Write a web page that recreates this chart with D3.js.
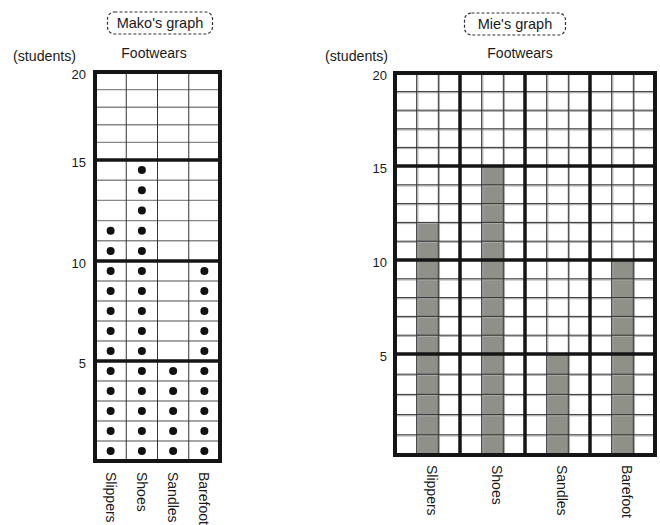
<!DOCTYPE html>
<html>
<head>
<meta charset="utf-8">
<script src="https://cdn.jsdelivr.net/npm/d3@7"></script>
<style>
  body { margin: 0; background: #fff; }
  text { font-family: "Liberation Sans", Arial, sans-serif; fill: #1a1a1a; }
</style>
</head>
<body>
<script>
var width = 660,
    height = 525;

// data
var categories = ["Slippers", "Shoes", "Sandles", "Barefoot"];
var makoCounts = [12, 15, 5, 10];
var mieCounts = [12, 15, 5, 10];
var yTicks = [5, 10, 15, 20];
var yMax = 20;

var svg = d3.select("body").append("svg")
    .attr("width", width)
    .attr("height", height);

// the printed grids are not perfectly even, so piecewise scales
var xMako = d3.scaleBand().domain(categories).range([95, 220]);
var yMako = d3.scaleLinear().domain([0, 5, 10, 15, 20]).range([461, 361, 261, 160, 72]);

var xMie = d3.scaleBand().domain(categories).range([395, 655]);
var subMie = d3.scaleBand().domain([0, 1, 2]).range([0, xMie.bandwidth()]);
var yMie = d3.scaleLinear().domain([0, 5, 10, 15, 20]).range([455, 354, 260, 166, 73]);

var thin = d3.range(1, yMax).filter(function (v) { return v % 5 !== 0; });
var thickY = [5, 10, 15];

function titleBox(cx, y0, w, label) {
  svg.append("rect")
    .attr("x", cx - w / 2).attr("y", y0)
    .attr("width", w).attr("height", 22)
    .attr("rx", 7)
    .attr("fill", "none")
    .attr("stroke", "#333")
    .attr("stroke-width", 1.2)
    .attr("stroke-dasharray", "3,2");
  svg.append("text")
    .attr("x", cx).attr("y", y0 + 16)
    .attr("text-anchor", "middle")
    .attr("font-size", 14.5)
    .text(label);
}

function labels(x, y, tickRight, studentsX, cx, catTop, catShift) {
  svg.append("text")
    .attr("x", studentsX).attr("y", 61)
    .attr("font-size", 14.2)
    .text("(students)");
  svg.append("text")
    .attr("x", cx).attr("y", 58)
    .attr("text-anchor", "middle")
    .attr("font-size", 14)
    .text("Footwears");

  svg.append("g").selectAll("text")
    .data(yTicks)
    .enter().append("text")
      .attr("x", tickRight)
      .attr("y", function (d) { return y(d) + 7; })
      .attr("text-anchor", "end")
      .attr("font-size", 13)
      .text(function (d) { return d; });

  svg.append("g").selectAll("text")
    .data(categories)
    .enter().append("text")
      .attr("transform", function (d) {
        return "translate(" + (x(d) + x.bandwidth() / 2 + catShift) + "," + catTop + ") rotate(90)";
      })
      .attr("dominant-baseline", "central")
      .attr("font-size", 14)
      .text(function (d) { return d; });
}

// ---------- Mako's graph (dots) ----------
var mako = svg.append("g");
var mx0 = xMako.range()[0], mx1 = xMako.range()[1];

mako.selectAll(".hthin")
  .data(thin)
  .enter().append("line")
    .attr("x1", mx0).attr("x2", mx1)
    .attr("y1", function (d) { return yMako(d); })
    .attr("y2", function (d) { return yMako(d); })
    .attr("stroke", "#888")
    .attr("stroke-width", 1.4);

mako.selectAll(".vthin")
  .data(categories.slice(1))
  .enter().append("line")
    .attr("x1", function (d) { return xMako(d); })
    .attr("x2", function (d) { return xMako(d); })
    .attr("y1", yMako(yMax)).attr("y2", yMako(0))
    .attr("stroke", "#333")
    .attr("stroke-width", 1);

mako.selectAll(".hthick")
  .data(thickY)
  .enter().append("line")
    .attr("x1", mx0).attr("x2", mx1)
    .attr("y1", function (d) { return yMako(d); })
    .attr("y2", function (d) { return yMako(d); })
    .attr("stroke", "#151515")
    .attr("stroke-width", 3.5);

var dots = [];
categories.forEach(function (c, i) {
  d3.range(1, makoCounts[i] + 1).forEach(function (n) {
    dots.push({ cat: c, n: n });
  });
});

mako.selectAll("circle")
  .data(dots)
  .enter().append("circle")
    .attr("cx", function (d) { return xMako(d.cat) + xMako.bandwidth() / 2; })
    .attr("cy", function (d) { return yMako(d.n - 0.5); })
    .attr("r", 4)
    .attr("fill", "#111");

mako.append("rect")
  .attr("x", mx0).attr("y", yMako(yMax))
  .attr("width", mx1 - mx0).attr("height", yMako(0) - yMako(yMax))
  .attr("fill", "none")
  .attr("stroke", "#151515")
  .attr("stroke-width", 4);

titleBox(160, 12, 105, "Mako's graph");
labels(xMako, yMako, 86, 13, 154, 472, 0);

// ---------- Mie's graph (bars) ----------
var mie = svg.append("g");
var bx0 = xMie.range()[0], bx1 = xMie.range()[1];

mie.selectAll(".bar")
  .data(categories)
  .enter().append("rect")
    .attr("x", function (d) { return xMie(d) + subMie(1); })
    .attr("width", subMie.bandwidth())
    .attr("y", function (d, i) { return yMie(mieCounts[i]); })
    .attr("height", function (d, i) { return yMie(0) - yMie(mieCounts[i]); })
    .attr("fill", "#8f908a");

var subLines = [];
categories.forEach(function (c) {
  subLines.push(xMie(c) + subMie(1));
  subLines.push(xMie(c) + subMie(2));
});

// thin lines: dark line with a grey shadow, like the print
mie.selectAll(".hshadow")
  .data(thin)
  .enter().append("line")
    .attr("x1", bx0).attr("x2", bx1)
    .attr("y1", function (d) { return yMie(d) + 1.2; })
    .attr("y2", function (d) { return yMie(d) + 1.2; })
    .attr("stroke", "#aaa")
    .attr("stroke-width", 1);

mie.selectAll(".vshadow")
  .data(subLines)
  .enter().append("line")
    .attr("x1", function (d) { return d + 1.2; })
    .attr("x2", function (d) { return d + 1.2; })
    .attr("y1", yMie(yMax)).attr("y2", yMie(0))
    .attr("stroke", "#aaa")
    .attr("stroke-width", 1);

mie.selectAll(".hthin")
  .data(thin)
  .enter().append("line")
    .attr("x1", bx0).attr("x2", bx1)
    .attr("y1", function (d) { return yMie(d); })
    .attr("y2", function (d) { return yMie(d); })
    .attr("stroke", "#333")
    .attr("stroke-width", 1);

mie.selectAll(".vthin")
  .data(subLines)
  .enter().append("line")
    .attr("x1", function (d) { return d; })
    .attr("x2", function (d) { return d; })
    .attr("y1", yMie(yMax)).attr("y2", yMie(0))
    .attr("stroke", "#333")
    .attr("stroke-width", 1);

mie.selectAll(".hthick")
  .data(thickY)
  .enter().append("line")
    .attr("x1", bx0).attr("x2", bx1)
    .attr("y1", function (d) { return yMie(d); })
    .attr("y2", function (d) { return yMie(d); })
    .attr("stroke", "#151515")
    .attr("stroke-width", 3.5);

mie.selectAll(".vthick")
  .data(categories.slice(1))
  .enter().append("line")
    .attr("x1", function (d) { return xMie(d); })
    .attr("x2", function (d) { return xMie(d); })
    .attr("y1", yMie(yMax)).attr("y2", yMie(0))
    .attr("stroke", "#151515")
    .attr("stroke-width", 3.5);

mie.append("rect")
  .attr("x", bx0).attr("y", yMie(yMax))
  .attr("width", bx1 - bx0).attr("height", yMie(0) - yMie(yMax))
  .attr("fill", "none")
  .attr("stroke", "#151515")
  .attr("stroke-width", 4);

titleBox(515, 13, 101, "Mie's graph");
labels(xMie, yMie, 387, 325, 520, 465, 4);
</script>
</body>
</html>
